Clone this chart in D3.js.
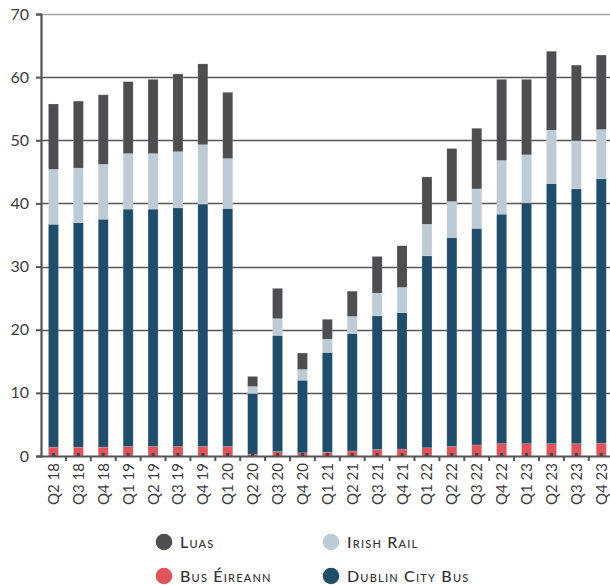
<!DOCTYPE html>
<html>
<head>
<meta charset="utf-8">
<script src="https://cdn.jsdelivr.net/npm/d3@7"></script>
<style>
  html, body { margin: 0; padding: 0; background: #fff; }
  svg { display: block; }
  text { font-family: Lato, "Open Sans", sans-serif; }
</style>
</head>
<body>
<svg id="chart"></svg>
<script>
// quarters on the x axis
const quarters = ["Q2 18", "Q3 18", "Q4 18", "Q1 19", "Q2 19", "Q3 19", "Q4 19", "Q1 20",
  "Q2 20", "Q3 20", "Q4 20", "Q1 21", "Q2 21", "Q3 21", "Q4 21", "Q1 22",
  "Q2 22", "Q3 22", "Q4 22", "Q1 23", "Q2 23", "Q3 23", "Q4 23"];

// passenger journeys (millions)
const busEireann = [1.4, 1.4, 1.4, 1.5, 1.5, 1.5, 1.5, 1.5, 0.3, 0.7, 0.5, 0.6, 0.8, 1.05, 1.1, 1.3,
  1.5, 1.75, 1.95, 1.95, 1.95, 1.95, 2.05];
const dublinBus = [35.3, 35.55, 36.1, 37.6, 37.6, 37.8, 38.4, 37.7, 9.6, 18.4, 11.5, 15.8, 18.6, 21.15, 21.6, 30.4,
  33.1, 34.3, 36.35, 38.15, 41.2, 40.35, 41.85];
const irishRail = [8.7, 8.65, 8.7, 8.8, 8.8, 8.9, 9.4, 7.9, 1.1, 2.65, 1.7, 2.1, 2.7, 3.6, 4.0, 5.0,
  5.7, 6.25, 8.5, 7.6, 8.45, 7.6, 7.8];
const luas = [10.35, 10.6, 11.0, 11.4, 11.75, 12.3, 12.8, 10.5, 1.6, 4.8, 2.6, 3.15, 4.0, 5.8, 6.6, 7.5,
  8.4, 9.6, 12.85, 11.95, 12.5, 12.0, 11.8];

const yTicks = [0, 10, 20, 30, 40, 50, 60, 70];

const seriesKeys = ["busEireann", "dublinBus", "irishRail", "luas"];
const colors = {
  busEireann: "#e0535b",
  dublinBus: "#1f4e6d",
  irishRail: "#bccbd5",
  luas: "#4d4e52"
};
const legendItems = [
  { key: "luas", label: "Luas" },
  { key: "irishRail", label: "Irish Rail" },
  { key: "busEireann", label: "Bus Éireann" },
  { key: "dublinBus", label: "Dublin City Bus" }
];

// 表示サイズ
const size = { width: 610, height: 585 };
const plot = { left: 41, top: 14, bottom: 456 };
const step = 24.9;
const barWidth = 10;

const svg = d3.select("#chart")
  .attr("width", size.width)
  .attr("height", size.height);

const table = quarters.map((q, i) => ({
  quarter: q,
  busEireann: busEireann[i],
  dublinBus: dublinBus[i],
  irishRail: irishRail[i],
  luas: luas[i]
}));

const stacked = d3.stack().keys(seriesKeys)(table);

const x = d3.scaleBand()
  .domain(quarters)
  .range([plot.left, plot.left + step * quarters.length])
  .padding(0);

const y = d3.scaleLinear()
  .domain([0, 70])
  .range([plot.bottom, plot.top]);

// grid lines
svg.append("g")
  .selectAll("line")
  .data(yTicks.filter(d => d > 0))
  .join("line")
  .attr("x1", plot.left)
  .attr("x2", size.width)
  .attr("y1", d => Math.round(y(d)) + 0.5)
  .attr("y2", d => Math.round(y(d)) + 0.5)
  .attr("stroke", d => d === 70 ? "#a8a8a8" : "#555")
  .attr("stroke-width", 1.3);

// bars
svg.append("g")
  .selectAll("g")
  .data(stacked)
  .join("g")
  .attr("fill", d => colors[d.key])
  .selectAll("rect")
  .data(d => d)
  .join("rect")
  .attr("x", d => x(d.data.quarter) + (step - barWidth) / 2)
  .attr("width", barWidth)
  .attr("y", d => y(d[1]))
  .attr("height", d => y(d[0]) - y(d[1]))
  .attr("stroke", "#ffffff")
  .attr("stroke-opacity", 0.25)
  .attr("stroke-width", 0.6);

// y axis
const yAxis = svg.append("g")
  .attr("transform", "translate(" + plot.left + ",0)")
  .call(d3.axisLeft(y).tickValues(yTicks).tickSize(5).tickPadding(7).tickFormat(d3.format("d")));
yAxis.select(".domain").attr("stroke", "#555").attr("stroke-width", 2.2);
yAxis.selectAll(".tick line").attr("stroke", "#555").attr("stroke-width", 2);
yAxis.selectAll(".tick text")
  .attr("fill", "#3d3d3d")
  .style("font-size", "16px")
  .style("font-family", "Lato, sans-serif");

// x axis
svg.append("line")
  .attr("x1", plot.left - 2)
  .attr("x2", size.width)
  .attr("y1", plot.bottom + 0.5)
  .attr("y2", plot.bottom + 0.5)
  .attr("stroke", "#555")
  .attr("stroke-width", 2.2);

// ticks between the bars
svg.append("g")
  .selectAll("line")
  .data(quarters.slice(1))
  .join("line")
  .attr("x1", d => x(d))
  .attr("x2", d => x(d))
  .attr("y1", plot.bottom)
  .attr("y2", plot.bottom + 5)
  .attr("stroke", "#555")
  .attr("stroke-width", 2);

// small marks under each bar
svg.append("g")
  .selectAll("rect")
  .data(quarters)
  .join("rect")
  .attr("x", d => x(d) + step / 2 - 1.5)
  .attr("y", plot.bottom - 3)
  .attr("width", 3)
  .attr("height", 3)
  .attr("fill", "#444");

svg.append("g")
  .selectAll("text")
  .data(quarters)
  .join("text")
  .attr("transform", d => "translate(" + (x(d) + step / 2 + 5.5) + "," + (plot.bottom + 7) + ") rotate(-90)")
  .attr("text-anchor", "end")
  .attr("fill", "#3d3d3d")
  .style("font-size", "15px")
  .text(d => d);

// legend
const legendPos = [
  { cx: 164, cy: 542 },
  { cx: 331, cy: 542 },
  { cx: 164, cy: 576 },
  { cx: 331, cy: 576 }
];

const legend = svg.append("g")
  .selectAll("g")
  .data(legendItems)
  .join("g")
  .attr("transform", (d, i) => "translate(" + legendPos[i].cx + "," + legendPos[i].cy + ")");

legend.append("circle")
  .attr("r", 8.3)
  .attr("fill", d => colors[d.key]);

legend.append("text")
  .attr("x", 16)
  .attr("y", 5.5)
  .attr("fill", "#333")
  .style("font-size", "16px")
  .style("font-variant", "small-caps")
  .style("letter-spacing", "1.2px")
  .style("font-weight", "500")
  .text(d => d.label);
</script>
</body>
</html>
